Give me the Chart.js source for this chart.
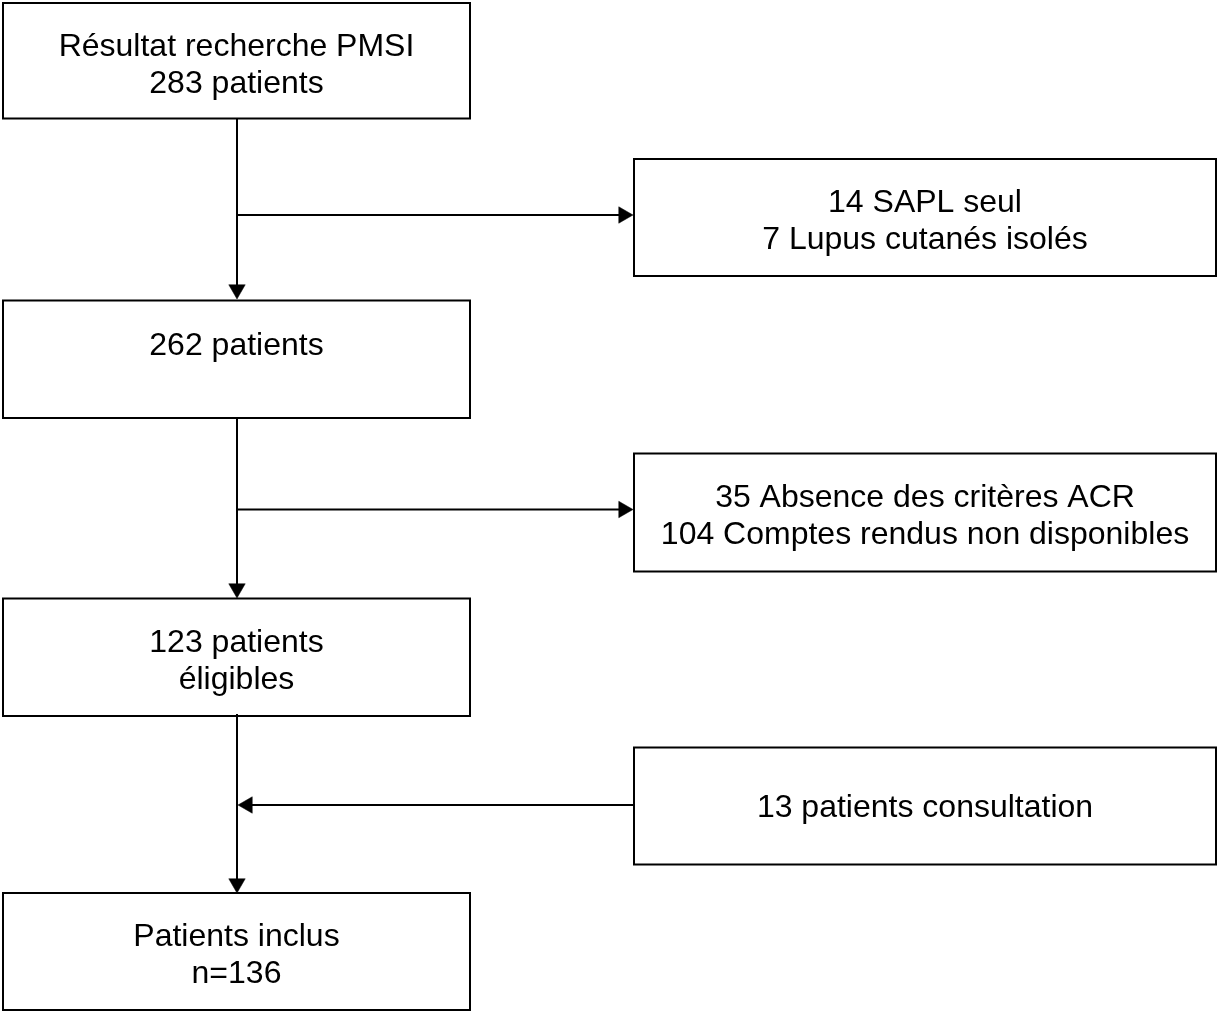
<!DOCTYPE html>
<html>
<head>
<meta charset="utf-8">
<script src="https://cdn.jsdelivr.net/npm/chart.js@4/dist/chart.umd.min.js"></script>
<style>
  html, body { margin: 0; padding: 0; background: #ffffff; overflow: hidden; }
  #wrap { width: 1218px; height: 1011px; }
  canvas { display: block; }
</style>
</head>
<body>
<div id="wrap"><canvas id="c" width="1218" height="1011"></canvas></div>
<script>
// ---- Flowchart content (text of each step) ----
const nodeLabels = [
  ["Résultat recherche PMSI", "283 patients"],
  ["14 SAPL seul", "7 Lupus cutanés isolés"],
  ["262 patients"],
  ["35 Absence des critères ACR", "104 Comptes rendus non disponibles"],
  ["123 patients", "éligibles"],
  ["13 patients consultation"],
  ["Patients inclus", "n=136"]
];

// ---- Layout of the boxes in chart units ----
const boxLeft   = [3,   634,  3,     634,   3,     634,   3];
const boxRight  = [470, 1216, 470,   1216,  470,   1216,  470];
const boxTop    = [3,   159,  300.5, 453.5, 598.5, 747.5, 893];
const boxBottom = [118.5, 276, 418,  571.5, 716,   864.5, 1010];
// first text baseline offset from box top
const textOffset = [53, 53, 54, 53, 53, 69.5, 53];

// ---- Connectors: start point and arrow tip ----
const connectorFrom = [[237, 119], [237, 215], [237, 418], [237, 509.5], [237, 714], [634, 805]];
const connectorTo   = [[237, 299], [633, 215], [237, 598], [633, 509.5], [237, 893], [238, 805]];

const LINE_H = 37;
const ARROW_R = 9.5;

const datasets = [];

// boxes
for (let i = 0; i < nodeLabels.length; i++) {
  datasets.push({
    data: [
      {x: boxLeft[i],  y: boxTop[i]},
      {x: boxRight[i], y: boxTop[i]},
      {x: boxRight[i], y: boxBottom[i]},
      {x: boxLeft[i],  y: boxBottom[i]},
      {x: boxLeft[i],  y: boxTop[i]}
    ],
    showLine: true,
    borderColor: '#000000',
    borderWidth: 2,
    borderJoinStyle: 'miter',
    borderCapStyle: 'square',
    pointRadius: 0,
    fill: false,
    tension: 0,
    clip: false
  });
}

// connector lines + arrowheads
const headPts = [];
const headRot = [];
for (let i = 0; i < connectorFrom.length; i++) {
  const [x0, y0] = connectorFrom[i];
  const [x1, y1] = connectorTo[i];
  const len = Math.hypot(x1 - x0, y1 - y0);
  const ux = (x1 - x0) / len, uy = (y1 - y0) / len;
  datasets.push({
    data: [{x: x0, y: y0}, {x: x1 - ux * 6, y: y1 - uy * 6}],
    showLine: true,
    borderColor: '#000000',
    borderWidth: 2,
    pointRadius: 0,
    fill: false,
    clip: false
  });
  headPts.push({x: x1 - ux * ARROW_R, y: y1 - uy * ARROW_R});
  // rotation: 0 = tip up, 90 = right, 180 = down, 270 = left
  const deg = Math.atan2(ux, -uy) * 180 / Math.PI;
  headRot.push((deg + 360) % 360);
}
datasets.push({
  data: headPts,
  showLine: false,
  pointStyle: 'triangle',
  pointRadius: ARROW_R,
  pointRotation: headRot,
  pointBackgroundColor: '#000000',
  pointBorderColor: '#000000',
  pointBorderWidth: 0.5,
  clip: false
});

const textPlugin = {
  id: 'boxText',
  afterDatasetsDraw(chart) {
    const ctx = chart.ctx;
    const xs = chart.scales.x, ys = chart.scales.y;
    ctx.save();
    ctx.fillStyle = '#000000';
    ctx.font = '32px "Liberation Sans", Arial, Helvetica, sans-serif';
    ctx.textAlign = 'center';
    ctx.textBaseline = 'alphabetic';
    for (let i = 0; i < nodeLabels.length; i++) {
      const cx = xs.getPixelForValue((boxLeft[i] + boxRight[i]) / 2);
      nodeLabels[i].forEach((line, j) => {
        const y = ys.getPixelForValue(boxTop[i] + textOffset[i] + j * LINE_H);
        ctx.fillText(line, cx, y);
      });
    }
    ctx.restore();
  }
};

new Chart(document.getElementById('c'), {
  type: 'scatter',
  data: { datasets },
  options: {
    responsive: false,
    animation: false,
    devicePixelRatio: 1,
    events: [],
    layout: { padding: 0, autoPadding: false },
    plugins: { legend: { display: false }, tooltip: { enabled: false } },
    scales: {
      x: { type: 'linear', min: 0, max: 1218, display: false },
      y: { type: 'linear', min: 0, max: 1011, reverse: true, display: false }
    }
  },
  plugins: [textPlugin]
});
</script>
</body>
</html>
